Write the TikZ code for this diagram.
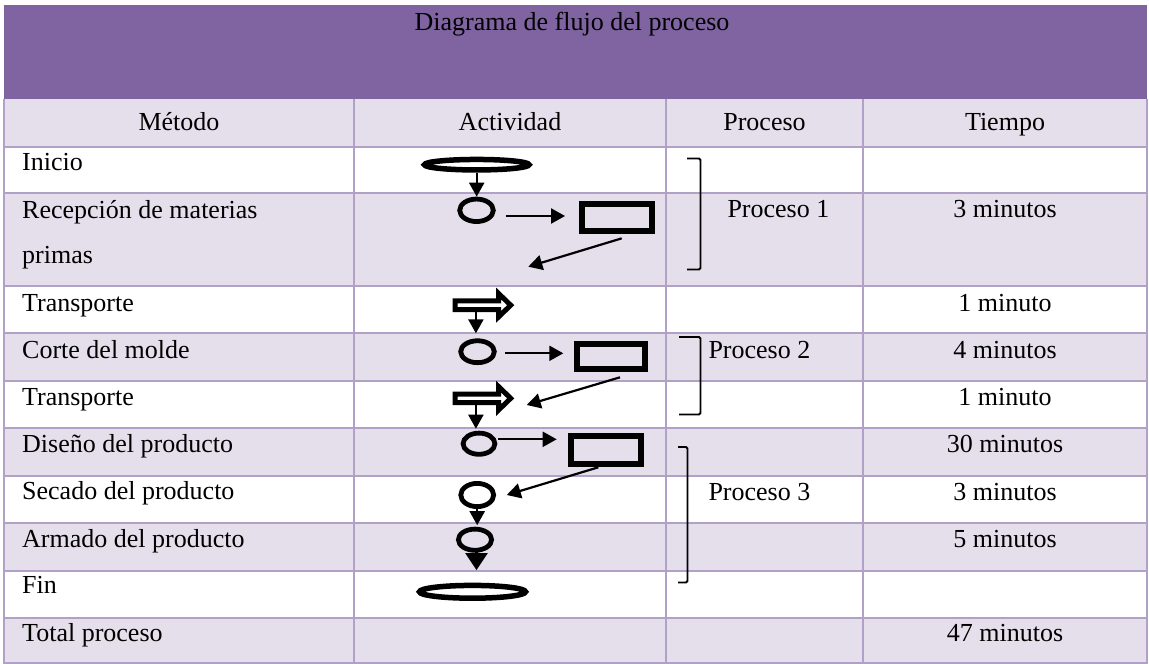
\documentclass[tikz,border=0pt]{standalone}
\usepackage{fontspec}
\setmainfont{Liberation Serif}
\usetikzlibrary{shapes.geometric,arrows.meta,calc}
\definecolor{hdr}{HTML}{8064A2}
\definecolor{band}{HTML}{E5DFEC}
\definecolor{gridc}{HTML}{B2A1C7}
\tikzset{
  blockarrow/.pic={
    \draw[line width=5pt, line join=miter, fill=white]
      (0,-4.3) -- (43.5,-4.3) -- (43.5,-11.6) -- (55.5,0) -- (43.5,11.6) -- (43.5,4.3) -- (0,4.3) -- cycle;
    \coordinate (-bot) at (20.7,6.7);
  }
}
\begin{document}
\begin{tikzpicture}[x=1pt,y=-1pt,
  txt/.style={font=\fontsize{26}{30}\selectfont, inner sep=0pt},
  lbl/.style={txt, anchor=base west},
  ctr/.style={txt, anchor=base},
  term/.style={ellipse, draw, line width=5.5pt, inner sep=0pt},
  oper/.style={ellipse, draw, line width=4.8pt, inner sep=0pt},
  insp/.style={rectangle, draw, line width=6pt, inner sep=0pt},
  flow/.style={line width=2.2pt, -{Triangle[length=14pt,width=15pt]}},
  bigflow/.style={line width=2.2pt, -{Triangle[length=17pt,width=22pt]}},
  brk/.style={line width=1.8pt, rounded corners=1.5pt},
  gridline/.style={gridc, line width=2pt}
]
\useasboundingbox (0,0) rectangle (1149,664);
% backgrounds
\fill[hdr] (4,5) rectangle (1147,99);
\fill[band] (4,99) rectangle (1147,147);
\fill[band] (4,193.3) rectangle (1147,286.3);
\fill[band] (4,333.3) rectangle (1147,381.3);
\fill[band] (4,428.3) rectangle (1147,476);
\fill[band] (4,523.3) rectangle (1147,571);
\fill[band] (4,618) rectangle (1147,663.3);
% grid
\foreach \yy in {147,193.3,286.3,333.3,381.3,428.3,476,523.3,571,618,663.3}
  \draw[gridline] (3,\yy) -- (1147.7,\yy);
\foreach \xx in {4,354,666,863.3,1146.7}
  \draw[gridline] (\xx,99) -- (\xx,664);
% header texts
\node[ctr] (title) at (572,30.5) {Diagrama de flujo del proceso};
\node[ctr] (hm) at (179,130) {Método};
\node[ctr] (ha) at (510,130) {Actividad};
\node[ctr] (hp) at (764.5,130) {Proceso};
\node[ctr] (ht) at (1005,130) {Tiempo};
% method column
\node[lbl] (m1) at (22,170) {Inicio};
\node[lbl] (m2) at (22,218) {Recepción de materias};
\node[lbl] (m2b) at (22,263.3) {primas};
\node[lbl] (m3) at (22,311.5) {Transporte};
\node[lbl] (m4) at (22,358) {Corte del molde};
\node[lbl] (m5) at (22,405) {Transporte};
\node[lbl] (m6) at (22,452) {Diseño del producto};
\node[lbl] (m7) at (22,499.5) {Secado del producto};
\node[lbl] (m8) at (22,547) {Armado del producto};
\node[lbl] (m9) at (22,593.5) {Fin};
\node[lbl] (m10) at (22,641.7) {Total proceso};
% process column
\node[lbl] (p1) at (727.3,217) {Proceso 1};
\node[lbl] (p2) at (708.3,358) {Proceso 2};
\node[lbl] (p3) at (708.3,500.5) {Proceso 3};
% time column
\node[ctr] (t2) at (1005,217) {3 minutos};
\node[ctr] (t3) at (1005,311) {1 minuto};
\node[ctr] (t4) at (1005,358) {4 minutos};
\node[ctr] (t5) at (1005,405) {1 minuto};
\node[ctr] (t6) at (1005,452.7) {30 minutos};
\node[ctr] (t7) at (1005,500) {3 minutos};
\node[ctr] (t8) at (1005,547) {5 minutos};
\node[ctr] (t10) at (1005,641.7) {47 minutos};
% brackets
\draw[brk] (687,158.5) -- (700.5,158.5) -- (700.5,269.5) -- (687,269.5);
\draw[brk] (679,337) -- (700.5,337) -- (700.5,414.5) -- (679,414.5);
\draw[brk] (678,447) -- (687.5,447) -- (687.5,582.5) -- (678,582.5);
% activity shapes
\node[term, minimum width=104.5pt, minimum height=10.5pt] (ini) at (476.7,164.7) {};
\node[oper, minimum width=33.6pt, minimum height=22.5pt] (o1) at (476.5,210.3) {};
\node[insp, minimum width=70.3pt, minimum height=27.3pt] (i1) at (617.2,217.4) {};
\pic (ba) at (455.2,305.2) {blockarrow};
\node[oper, minimum width=33.6pt, minimum height=21.9pt] (o2) at (477.5,351.7) {};
\node[insp, minimum width=68pt, minimum height=25pt] (i2) at (611.3,356.2) {};
\pic (bb) at (455.2,398.3) {blockarrow};
\node[oper, minimum width=31.8pt, minimum height=21.2pt] (o3) at (479,443.7) {};
\node[insp, minimum width=70pt, minimum height=27.4pt] (i3) at (606.3,450) {};
\node[oper, minimum width=32.9pt, minimum height=23.2pt] (o4) at (477.2,495) {};
\node[oper, minimum width=33.2pt, minimum height=21.2pt] (o5) at (475,539.7) {};
\node[term, minimum width=106pt, minimum height=12.8pt] (fin) at (472.5,591.8) {};
\coordinate (e1) at (528.3,266.7);
\coordinate (e2) at (526.7,405);
% connectors
\draw[flow] (ini.south) -- (ini.south |- o1.north);
\draw[flow] ($(o1.east |- i1.west)+(10,-1.4)$) -- ($(i1.west)+(-14,-1.4)$);
\draw[flow] ($(i1.south)+(4.5,4.3)$) -- (e1);
\draw[flow, shorten >=5pt] (ba-bot) -- (ba-bot |- o2.north);
\draw[flow] ($(o2.east)+(8.3,1.6)$) -- ($(i2.west)+(-11,-2.9)$);
\draw[flow] ($(i2.south)+(8.7,5.6)$) -- (e2);
\draw[flow, shorten >=2pt] (bb-bot) -- (bb-bot |- o3.north);
\draw[flow] ($(o3.east)+(1,-4.4)$) -- ($(i3.west)+(-11.6,-10.7)$);
\draw[flow] ($(i3.south)+(-8,0.6)$) -- ($(o4.east)+(10.7,0)$);
\draw[flow, shorten >=1.5pt] (o4.south) -- (o4.south |- o5.north);
\draw[bigflow, shorten >=12.5pt] ($(o5.south)+(1.5,-2)$) -- ($(o5.south |- fin.north)+(1.5,0)$);
\end{tikzpicture}
\end{document}
